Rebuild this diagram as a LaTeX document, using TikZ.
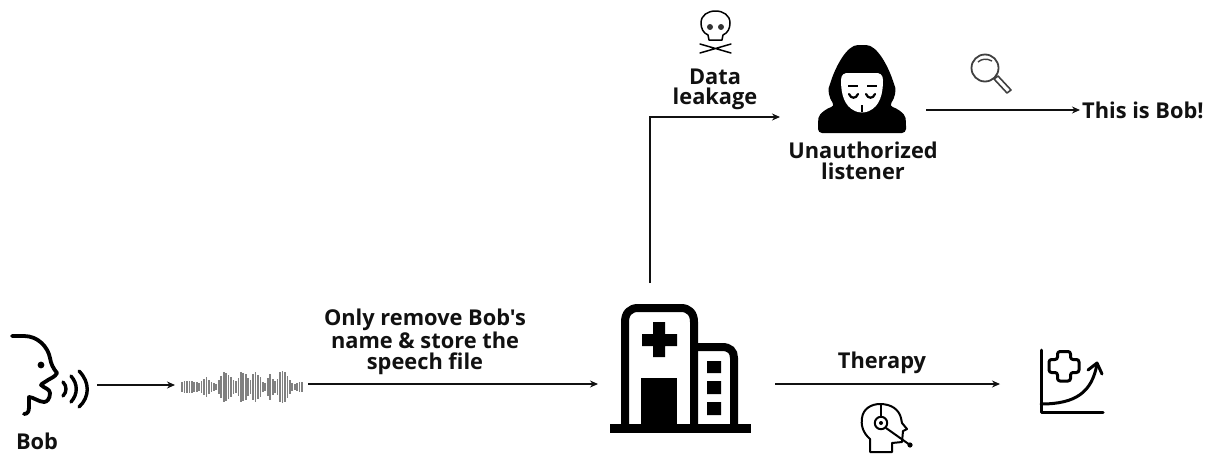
\documentclass[tikz,border=0pt]{standalone}
\usepackage{fontspec}
\setmainfont{Open Sans}[Ligatures=TeXOff]
\usetikzlibrary{arrows.meta}
\definecolor{ink}{HTML}{111111}
\tikzset{
  x=1pt,y=-1pt,
  link/.style={draw=ink,line width=1.2pt,-{Stealth[length=8pt,width=7pt]}},
  lbl/.style={font=\fontsize{21.8}{21}\selectfont\bfseries,text=ink,align=center,inner sep=0pt,anchor=center},
  icon/.style={draw=black,line cap=round,line join=round,fill=none},
}
\begin{document}
\begin{tikzpicture}
\useasboundingbox (0,0) rectangle (1212,453);
% anchors for connectors
\coordinate (speakerOut) at (97,385);
\coordinate (waveIn) at (175,385);
\coordinate (waveOut) at (308,384);
\coordinate (hospitalIn) at (598,384);
\coordinate (hospitalTop) at (650,283);
\coordinate (elbow) at (650,117);
\coordinate (listenerIn) at (780,117);
\coordinate (listenerOut) at (926,110);
\coordinate (resultIn) at (1080,110);
\coordinate (hospitalOut) at (775,384);
\coordinate (chartIn) at (1000,384);
% connectors
\draw[link] (speakerOut) -- (waveIn);
\draw[link] (waveOut) -- (hospitalIn);
\draw[link] (hospitalTop) -- (elbow) -- (listenerIn);
\draw[link] (listenerOut) -- (resultIn);
\draw[link] (hospitalOut) -- (chartIn);
% speaker
\draw[icon,line width=3.8pt] (12,336) -- (24,336) .. controls (38,336) and (48,347) .. (50,358)
  .. controls (51,364) and (53,368) .. (57,373) .. controls (55,377) and (51,378) .. (48,380)
  .. controls (46,382) and (42,383) .. (41,385) .. controls (44,388) and (50,389) .. (50,393)
  .. controls (50,399) and (47,402) .. (44,402) .. controls (39,402) and (33,397) .. (29,397)
  -- (29,407) .. controls (29,411) and (28,414) .. (24,414);
\fill (41,365) circle (3.4);
\draw[icon,line width=3.4pt] (63,382) .. controls (67,386) and (67,392) .. (63,396);
\draw[icon,line width=3.4pt] (71,376) .. controls (78,384) and (78,394) .. (71,402);
\draw[icon,line width=3.4pt] (79,371) .. controls (90,382) and (90,397) .. (79,407);
% waveform
\foreach \i/\h in {0/5,1/6,2/6,3/6,4/6,5/5,6/5,7/4,8/6,9/8,10/10,11/7,12/5,13/4,14/3,15/7,16/11,17/15,18/14,19/12,20/10,21/7,22/6,23/9,24/15,25/14,26/13,27/9,28/7,29/13,30/15,31/12,32/10,33/5,34/4,35/9,36/13,37/8,38/6,39/8,40/15,41/16,42/15,43/11,44/7,45/4,46/3,47/4,48/5,49/5}
  \draw[draw=black!50,line width=1.7pt] ({182+\i*2.45},{387-\h}) -- ({182+\i*2.45},{387+\h});
% hospital
\fill (609.5,424) rectangle (750.5,432.5);
\draw[line width=8pt,line join=round] (625,426) -- (625,322) .. controls (625,313) and (630,308) .. (638,308) -- (681,308) .. controls (689,308) and (694,313) .. (694,322) -- (694,426);
\draw[line width=8pt] (694,347) -- (722,347) .. controls (730,347) and (734,351) .. (734,358) -- (734,426);
\fill (653,322) rectangle (665,334) (642,334) rectangle (677,346) (653,346) rectangle (665,357);
\fill (641,378) rectangle (677,426);
\fill (707,361) rectangle (721,373) (707,381) rectangle (721,394) (707,402) rectangle (721,415);
% therapist head
\draw[icon,line width=2pt] (870,452) -- (870,439) .. controls (862,432) and (861,424) .. (862,418)
  .. controls (863,409) and (871,404) .. (880,404) .. controls (892,404) and (899,410) .. (901,418)
  -- (902,423) -- (907,429) -- (903,431) -- (902,442) -- (892,443) -- (892,452) -- cycle;
\draw[icon,line width=2pt] (881,404) -- (881,417);
\draw[icon,line width=2pt] (881,423) circle (6.2);
\fill (881,423) circle (2);
\draw[icon,line width=2pt] (886,428) -- (910,445);
\fill (910,445) circle (2.6);
% chart
\draw[icon,line width=3pt] (1041,350) -- (1041,412) -- (1103,412);
\draw[icon,line width=3pt] (1041,404) .. controls (1076,404) and (1092,392) .. (1097,364);
\draw[icon,line width=3pt] (1088,370) -- (1097,363) -- (1102,374);
\draw[icon,line width=3pt,rounded corners=2.5pt] (1057.5,351.5) -- (1070.5,351.5) -- (1070.5,359.5) -- (1079,359.5) -- (1079,372.5) -- (1070.5,372.5) -- (1070.5,381) -- (1057.5,381) -- (1057.5,372.5) -- (1049,372.5) -- (1049,359.5) -- (1057.5,359.5) -- cycle;
% skull
\draw[icon,line width=1.5pt] (709,40) -- (708,35) .. controls (703,33) and (701,28) .. (701,23)
  .. controls (701,15) and (708,11) .. (715.5,11) .. controls (723,11) and (730,15) .. (730,23)
  .. controls (730,28) and (728,33) .. (723,35) -- (722,40) -- cycle;
\fill[black!80] (710,27) circle (3) (721,27) circle (3);
\draw[icon,line width=1.5pt] (700,44) -- (731,53) (731,44) -- (700,53);
% hooded listener
\fill[rounded corners=4pt] (818,133) -- (906,133) -- (906,122) .. controls (905,113) and (896,108) .. (889,106)
  .. controls (895,98) and (896,90) .. (894,84) .. controls (888,66) and (877,45) .. (862,45)
  .. controls (847,45) and (836,66) .. (830,84) .. controls (828,90) and (829,98) .. (835,106)
  .. controls (828,108) and (819,113) .. (818,122) -- cycle;
\fill[white] (841,80) .. controls (841,74) and (845,73) .. (848,73) -- (876,73) .. controls (879,73) and (883,74) .. (883,80)
  .. controls (883,94) and (880,106) .. (869,111) .. controls (865,113) and (859,113) .. (855,111) .. controls (844,106) and (841,94) .. (841,80) -- cycle;
\draw[line width=2pt] (848,86) -- (858,86) (867,86) -- (877,86);
\draw[line width=2.2pt,line cap=round] (849,94) .. controls (851,99) and (856,99) .. (858,94) (866,94) .. controls (868,99) and (873,99) .. (875,94);
\draw[line width=2pt] (862,105) -- (862,112);
% magnifier
\draw[draw=black!75,line width=1.8pt] (985,68) circle (13.5);
\draw[draw=black!75,line width=1.4pt] (978,62) .. controls (981,59) and (987,58) .. (992,61);
\draw[draw=black!75,line width=1.6pt,line join=round] (994,79) -- (998,76) -- (1011,90) -- (1007,93) -- cycle;
% labels
\node[lbl] (bobLabel) at (37,441) {Bob};
\node[lbl] (removeLabel) at (425,342) {Only remove Bob's\\name \& store the\\speech file};
\node[lbl] (therapyLabel) at (882,363) {Therapy};
\node[lbl] (leakLabel) at (715,89) {Data\\[-1pt]leakage};
\node[lbl] (listenerLabel) at (863,161) {Unauthorized\\listener};
\node[lbl,anchor=west] (resultLabel) at (1082,110) {This is Bob!};
\end{tikzpicture}
\end{document}
